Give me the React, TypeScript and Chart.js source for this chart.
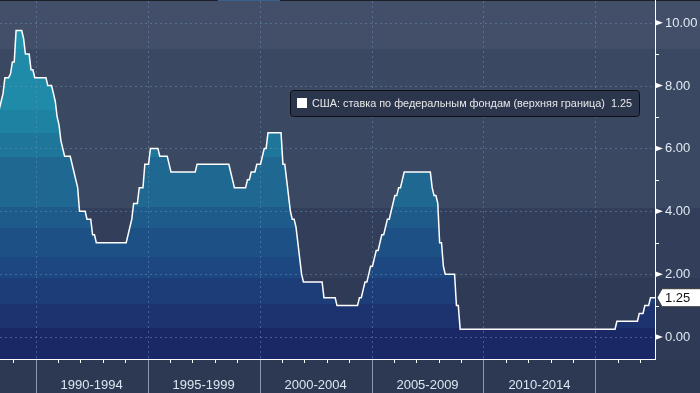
import React, { useEffect, useRef } from "react";
import { Chart, registerables } from "chart.js";

Chart.register(...registerables);

// ---------- data ----------
const seriesLabel = "США: ставка по федеральным фондам (верхняя граница)";
const firstYear = 1988;
const firstMonthIndex = 4; // May 1988, monthly values (end of month), one per month

const rates1988to1989 = [
  7.25, 7.5, 7.75, 8.25, 8.25, 8.25, 8.375, 8.75,
  8.75, 9.75, 9.75, 9.75, 9.75, 9.5, 9.0, 9.0, 9.0, 8.5, 8.5, 8.25,
];
const rates1990to1994 = [
  8.25, 8.25, 8.25, 8.25, 8.25, 8.25, 8.0, 8.0, 8.0, 7.75, 7.5, 7.0,
  6.75, 6.25, 6.0, 5.75, 5.75, 5.75, 5.75, 5.5, 5.25, 5.0, 4.75, 4.0,
  4.0, 4.0, 4.0, 3.75, 3.75, 3.75, 3.25, 3.25, 3.0, 3.0, 3.0, 3.0,
  3.0, 3.0, 3.0, 3.0, 3.0, 3.0, 3.0, 3.0, 3.0, 3.0, 3.0, 3.0,
  3.0, 3.25, 3.5, 3.75, 4.25, 4.25, 4.25, 4.75, 4.75, 4.75, 5.5, 5.5,
];
const rates1995to1999 = [
  5.5, 6.0, 6.0, 6.0, 6.0, 6.0, 5.75, 5.75, 5.75, 5.75, 5.75, 5.5,
  5.25, 5.25, 5.25, 5.25, 5.25, 5.25, 5.25, 5.25, 5.25, 5.25, 5.25, 5.25,
  5.25, 5.25, 5.5, 5.5, 5.5, 5.5, 5.5, 5.5, 5.5, 5.5, 5.5, 5.5,
  5.5, 5.5, 5.5, 5.5, 5.5, 5.5, 5.5, 5.5, 5.25, 5.0, 4.75, 4.75,
  4.75, 4.75, 4.75, 4.75, 4.75, 5.0, 5.0, 5.25, 5.25, 5.25, 5.5, 5.5,
];
const rates2000to2004 = [
  5.5, 5.75, 6.0, 6.0, 6.5, 6.5, 6.5, 6.5, 6.5, 6.5, 6.5, 6.5,
  5.5, 5.5, 5.0, 4.5, 4.0, 3.75, 3.75, 3.5, 3.0, 2.5, 2.0, 1.75,
  1.75, 1.75, 1.75, 1.75, 1.75, 1.75, 1.75, 1.75, 1.75, 1.75, 1.25, 1.25,
  1.25, 1.25, 1.25, 1.25, 1.25, 1.0, 1.0, 1.0, 1.0, 1.0, 1.0, 1.0,
  1.0, 1.0, 1.0, 1.0, 1.0, 1.25, 1.25, 1.5, 1.75, 1.75, 2.0, 2.25,
];
const rates2005to2009 = [
  2.25, 2.5, 2.75, 2.75, 3.0, 3.25, 3.25, 3.5, 3.75, 3.75, 4.0, 4.25,
  4.5, 4.5, 4.75, 4.75, 5.0, 5.25, 5.25, 5.25, 5.25, 5.25, 5.25, 5.25,
  5.25, 5.25, 5.25, 5.25, 5.25, 5.25, 5.25, 5.25, 4.75, 4.5, 4.5, 4.25,
  3.0, 3.0, 2.25, 2.0, 2.0, 2.0, 2.0, 2.0, 2.0, 1.0, 1.0, 0.25,
  0.25, 0.25, 0.25, 0.25, 0.25, 0.25, 0.25, 0.25, 0.25, 0.25, 0.25, 0.25,
];
const rates2010to2014 = [
  0.25, 0.25, 0.25, 0.25, 0.25, 0.25, 0.25, 0.25, 0.25, 0.25, 0.25, 0.25,
  0.25, 0.25, 0.25, 0.25, 0.25, 0.25, 0.25, 0.25, 0.25, 0.25, 0.25, 0.25,
  0.25, 0.25, 0.25, 0.25, 0.25, 0.25, 0.25, 0.25, 0.25, 0.25, 0.25, 0.25,
  0.25, 0.25, 0.25, 0.25, 0.25, 0.25, 0.25, 0.25, 0.25, 0.25, 0.25, 0.25,
  0.25, 0.25, 0.25, 0.25, 0.25, 0.25, 0.25, 0.25, 0.25, 0.25, 0.25, 0.25,
];
const rates2015to2017 = [
  0.25, 0.25, 0.25, 0.25, 0.25, 0.25, 0.25, 0.25, 0.25, 0.25, 0.25, 0.5,
  0.5, 0.5, 0.5, 0.5, 0.5, 0.5, 0.5, 0.5, 0.5, 0.5, 0.5, 0.75,
  0.75, 0.75, 1.0, 1.0, 1.0, 1.25, 1.25, 1.25, 1.25,
];

const periodLabels = ["1990-1994", "1995-1999", "2000-2004", "2005-2009", "2010-2014"];
const periodStartYears = [1990, 1995, 2000, 2005, 2010];
const majorYearLines = [1990, 1995, 2000, 2005, 2010, 2015];
const yearTicks = [
  1989, 1990, 1991, 1992, 1993, 1994, 1995, 1996, 1997, 1998, 1999, 2000, 2001, 2002, 2003,
  2004, 2005, 2006, 2007, 2008, 2009, 2010, 2011, 2012, 2013, 2014, 2015, 2016, 2017,
];
const yTickValues = [0, 2, 4, 6, 8, 10];
const yMinorTickValues = [1, 3, 5, 7, 9];

const xMin = 1988.406;
const xMax = 2017.66;
const yMin = -0.7;
const yMax = 10.69;

// ---------- styles ----------
const FONT = '"Liberation Sans", Arial, sans-serif';
const bgBands: [number, string][] = [
  [49, "#434f69"],
  [208, "#3b4862"],
  [278, "#333f5a"],
  [359, "#2f3b56"],
];
const fillBands: [number, string][] = [
  [49, "#2394ae"],
  [110, "#1f8ba8"],
  [133, "#1e82a2"],
  [157, "#1f769b"],
  [207, "#1f6891"],
  [228, "#1e5b8b"],
  [257, "#1d5085"],
  [278, "#1c4780"],
  [304, "#1c3d77"],
  [328, "#1c3370"],
  [400, "#1b2866"],
];

const decorPlugin = {
  id: "decor",
  beforeDraw(chart: any) {
    const { ctx, width, height } = chart;
    ctx.save();
    ctx.fillStyle = "#2d3952";
    ctx.fillRect(0, 0, width, height);
    let prev = 0;
    for (const [end, color] of bgBands) {
      ctx.fillStyle = color;
      ctx.fillRect(0, prev, width, end - prev);
      prev = end;
    }
    ctx.restore();
  },
  beforeDatasetsDraw(chart: any) {
    const { ctx, chartArea } = chart;
    const xs = chart.scales.x;
    const ys = chart.scales.y;
    ctx.save();
    ctx.strokeStyle = "rgba(105,145,185,0.5)";
    ctx.lineWidth = 1;
    ctx.setLineDash([2, 3]);
    for (const v of yTickValues) {
      const py = Math.round(ys.getPixelForValue(v)) + 0.5;
      ctx.beginPath();
      ctx.moveTo(chartArea.left, py);
      ctx.lineTo(chartArea.right, py);
      ctx.stroke();
    }
    for (const yr of majorYearLines) {
      const px = Math.round(xs.getPixelForValue(yr)) + 0.5;
      ctx.beginPath();
      ctx.moveTo(px, chartArea.top);
      ctx.lineTo(px, chartArea.bottom);
      ctx.stroke();
    }
    ctx.restore();
  },
  afterDatasetsDraw(chart: any) {
    const { ctx, chartArea, width, height } = chart;
    const xs = chart.scales.x;
    const ys = chart.scales.y;
    const right = chartArea.right;
    const bottom = chartArea.bottom;
    ctx.save();
    // top border
    ctx.fillStyle = "#1c2028";
    ctx.fillRect(0, 0, width, 1);
    ctx.fillStyle = "#3b5f8f";
    ctx.fillRect(218, 0, 62, 1);

    // axis lines
    ctx.strokeStyle = "#ffffff";
    ctx.lineWidth = 1;
    ctx.beginPath();
    ctx.moveTo(right + 0.5, 0);
    ctx.lineTo(right + 0.5, bottom + 1);
    ctx.moveTo(0, bottom + 0.5);
    ctx.lineTo(right + 1, bottom + 0.5);
    ctx.stroke();

    // y ticks
    ctx.fillStyle = "#ffffff";
    for (const v of yTickValues) {
      const py = ys.getPixelForValue(v);
      ctx.beginPath();
      ctx.moveTo(right, py - 3);
      ctx.lineTo(right + 8, py);
      ctx.lineTo(right, py + 3);
      ctx.closePath();
      ctx.fill();
    }
    ctx.beginPath();
    for (const v of yMinorTickValues) {
      const py = Math.round(ys.getPixelForValue(v)) + 0.5;
      ctx.moveTo(right, py);
      ctx.lineTo(right + 4, py);
    }
    ctx.stroke();

    ctx.font = `13px ${FONT}`;
    ctx.fillStyle = "#e2e9f3";
    ctx.textAlign = "left";
    ctx.textBaseline = "middle";
    for (const v of yTickValues) {
      ctx.fillText(v.toFixed(2), right + 10, ys.getPixelForValue(v) + 0.5);
    }

    // x ticks
    ctx.beginPath();
    ctx.strokeStyle = "#ffffff";
    for (const yr of yearTicks) {
      if (majorYearLines.includes(yr)) continue;
      const px = Math.round(xs.getPixelForValue(yr)) + 0.5;
      ctx.moveTo(px, bottom);
      ctx.lineTo(px, bottom + 4);
    }
    ctx.stroke();
    ctx.beginPath();
    ctx.strokeStyle = "#8e98aa";
    for (const yr of majorYearLines) {
      const px = Math.round(xs.getPixelForValue(yr)) + 0.5;
      ctx.moveTo(px, bottom + 1);
      ctx.lineTo(px, height);
    }
    ctx.stroke();

    ctx.fillStyle = "#dce5f0";
    ctx.textAlign = "center";
    periodLabels.forEach((lab, i) => {
      const px = xs.getPixelForValue(periodStartYears[i] + 2.5);
      ctx.fillText(lab, px, 385);
    });

    // legend box
    const ds = chart.data.datasets[0];
    const last = ds.data[ds.data.length - 1].y;
    const bx = 290.5, by = 90.5, bw = 349, bh = 26, r = 3;
    ctx.beginPath();
    ctx.moveTo(bx + r, by);
    ctx.lineTo(bx + bw - r, by);
    ctx.arcTo(bx + bw, by, bx + bw, by + r, r);
    ctx.lineTo(bx + bw, by + bh - r);
    ctx.arcTo(bx + bw, by + bh, bx + bw - r, by + bh, r);
    ctx.lineTo(bx + r, by + bh);
    ctx.arcTo(bx, by + bh, bx, by + bh - r, r);
    ctx.lineTo(bx, by + r);
    ctx.arcTo(bx, by, bx + r, by, r);
    ctx.closePath();
    ctx.fillStyle = "#2b354c";
    ctx.fill();
    ctx.strokeStyle = "#0b0e14";
    ctx.stroke();
    ctx.fillStyle = "#ffffff";
    ctx.fillRect(297, 98, 10, 10);
    const legendText = `${ds.label}  ${last.toFixed(2)}`;
    ctx.font = `12px ${FONT}`;
    const w12 = ctx.measureText(legendText).width;
    const fitSize = Math.min(12, (12 * 320) / w12);
    ctx.font = `${fitSize.toFixed(2)}px ${FONT}`;
    ctx.fillStyle = "#e8e8e8";
    ctx.textAlign = "left";
    ctx.fillText(legendText, 312, 104);

    // last value box
    const ly = ys.getPixelForValue(last);
    ctx.beginPath();
    ctx.moveTo(right + 2, ly);
    ctx.lineTo(right + 7, ly - 9);
    ctx.lineTo(width + 2, ly - 9);
    ctx.lineTo(width + 2, ly + 9);
    ctx.lineTo(right + 7, ly + 9);
    ctx.closePath();
    ctx.fillStyle = "#ffffff";
    ctx.fill();
    ctx.strokeStyle = "#3a3a3a";
    ctx.stroke();
    ctx.font = `13px ${FONT}`;
    ctx.fillStyle = "#111111";
    ctx.fillText(last.toFixed(2), right + 10, ly + 0.5);

    ctx.restore();
  },
};

export default function App() {
  const canvasRef = useRef<HTMLCanvasElement | null>(null);

  useEffect(() => {
    document.body.style.margin = "0";
    const canvas = canvasRef.current;
    if (!canvas) return;
    const monthlyRates = [
      ...rates1988to1989,
      ...rates1990to1994,
      ...rates1995to1999,
      ...rates2000to2004,
      ...rates2005to2009,
      ...rates2010to2014,
      ...rates2015to2017,
    ];
    const points = monthlyRates.map((v, i) => ({
      x: firstYear + (firstMonthIndex + i + 0.5) / 12,
      y: v,
    }));

    const chart = new Chart(canvas, {
      type: "line",
      data: {
        datasets: [
          {
            label: seriesLabel,
            data: points,
            borderColor: "#ffffff",
            borderWidth: 1.5,
            pointRadius: 0,
            tension: 0,
            fill: "start",
            backgroundColor: (c: any) => {
              const ch = c.chart;
              const area = ch.chartArea;
              if (!area) return "#1f6891";
              const h = area.bottom - area.top;
              const g = ch.ctx.createLinearGradient(0, area.top, 0, area.bottom);
              const clamp = (f: number) => Math.max(0, Math.min(1, f));
              let prev = area.top;
              for (const [end, color] of fillBands) {
                g.addColorStop(clamp((prev - area.top) / h), color);
                g.addColorStop(clamp((end - area.top) / h), color);
                prev = end;
              }
              return g;
            },
          },
        ],
      },
      options: {
        animation: false,
        responsive: false,
        devicePixelRatio: 1,
        events: [],
        layout: { padding: { left: 0, right: 45, top: 1, bottom: 34 } },
        scales: {
          x: { type: "linear", display: false, min: xMin, max: xMax },
          y: { type: "linear", display: false, min: yMin, max: yMax },
        },
        plugins: {
          legend: { display: false },
          tooltip: { enabled: false },
          filler: { drawTime: "beforeDatasetsDraw" },
        },
      } as any,
      plugins: [decorPlugin],
    });
    return () => chart.destroy();
  }, []);

  return (
    <div style={{ width: 700, height: 393 }}>
      <canvas ref={canvasRef} width={700} height={393} style={{ display: "block" }} />
    </div>
  );
}
